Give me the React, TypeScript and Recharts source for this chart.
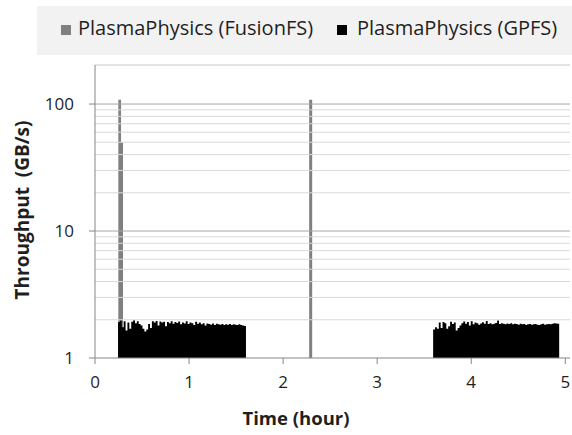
import React from 'react';
import { ComposedChart, Area, XAxis, YAxis, ReferenceLine } from 'recharts';

// Time axis (hours)
const xTicks = [0, 1, 2, 3, 4, 5];
const yTicks = [1, 10, 100];
const minorGrid = [2, 3, 4, 5, 6, 7, 8, 9, 20, 30, 40, 50, 60, 70, 80, 90];
const majorGrid = [10, 100];

// PlasmaPhysics (FusionFS): short bursts (time in hours, GB/s)
const fusionTimes = [0.248, 0.277, 0.298, 2.277, 2.309];
const fusionValues = [108, 50, 1, 108, 1];

// PlasmaPhysics (GPFS): two long sustained phases, sampled every 0.02 h
const gpfsStep = 0.02;
const gpfsBlock1Start = 0.245;
const gpfsBlock1 = [
  1.92, 1.97, 1.75, 1.95, 1.65, 1.9, 1.7, 1.93, 1.98, 1.88, 1.95, 1.85, 1.8, 1.7, 1.62, 1.68, 1.85, 1.72,
  1.95, 1.9, 1.96, 1.8, 1.94, 1.9, 1.93, 1.78, 1.92, 1.88, 1.95, 1.86, 1.92, 1.89, 1.94, 1.84, 1.9, 1.87,
  1.95, 1.85, 1.9, 1.88, 1.82, 1.93, 1.86, 1.9, 1.84, 1.88, 1.8, 1.87, 1.85, 1.83, 1.87, 1.82, 1.86, 1.84,
  1.83, 1.85, 1.82, 1.84, 1.83, 1.85, 1.82, 1.84, 1.83, 1.82, 1.84, 1.82, 1.8, 1.79,
];
const gpfsBlock2Start = 3.595;
const gpfsBlock2 = [
  1.68, 1.75, 1.7, 1.9, 1.72, 1.92, 1.88, 1.7, 1.78, 1.93, 1.85, 1.9, 1.65, 1.72, 1.8, 1.88, 1.94, 1.86,
  1.92, 1.8, 1.95, 1.84, 1.9, 1.88, 1.83, 1.87, 1.91, 1.86, 1.96, 1.85, 1.88, 1.84, 1.86, 1.89, 1.97, 1.85,
  1.88, 1.86, 1.84, 1.87, 1.85, 1.88, 1.84, 1.86, 1.85, 1.83, 1.86, 1.84, 1.85, 1.82, 1.84, 1.85, 1.83,
  1.84, 1.85, 1.83, 1.82, 1.84, 1.86, 1.83, 1.84, 1.85, 1.84, 1.86, 1.88, 1.87, 1.86,
];
const BASE = 1;

type Row = { t: number; fusion?: number; gpfs?: number };

function buildData(): Row[] {
  const map = new Map<string, Row>();
  const put = (t: number, key: 'fusion' | 'gpfs', v: number) => {
    const k = t.toFixed(4);
    const row = map.get(k) || { t: Number(k) };
    row[key] = v;
    map.set(k, row);
  };
  fusionTimes.forEach((t, i) => put(t, 'fusion', fusionValues[i]));
  const addBlock = (start: number, vals: number[]) => {
    vals.forEach((v, i) => put(start + i * gpfsStep, 'gpfs', v));
    put(start + vals.length * gpfsStep, 'gpfs', BASE);
  };
  addBlock(gpfsBlock1Start, gpfsBlock1);
  addBlock(gpfsBlock2Start, gpfsBlock2);
  return Array.from(map.values()).sort((a, b) => a.t - b.t);
}

const data = buildData();

const FONT = '"Open Sans", sans-serif';
const TEXT = '#1f1f1f';
const AXIS = '#868686';

export default function App() {
  return (
    <div style={{ position: 'absolute', left: 0, top: 0, width: 572, height: 435, background: '#fff' }}>
      <ComposedChart
        width={572}
        height={435}
        data={data}
        margin={{ top: 65, right: 2, left: 35, bottom: 47 }}
        style={{ fontFamily: FONT }}
      >
        {minorGrid.map((v) => (
          <ReferenceLine key={'m' + v} y={v} stroke="#d9d9d9" strokeWidth={1} />
        ))}
        {majorGrid.map((v) => (
          <ReferenceLine key={'M' + v} y={v} stroke="#a6a6a6" strokeWidth={1} />
        ))}
        <ReferenceLine y={203} stroke="#c8c8c8" strokeWidth={1} />
        <XAxis
          dataKey="t"
          type="number"
          domain={[0, 5.05]}
          ticks={xTicks}
          allowDataOverflow
          height={30}
          axisLine={{ stroke: AXIS }}
          tickLine={{ stroke: AXIS }}
          tickSize={6}
          tickMargin={12}
          tick={{ fill: TEXT, fontSize: 17, fontFamily: FONT }}
          label={{
            content: () => (
              <text x={296} y={417} textAnchor="middle" dominantBaseline="central" fill={TEXT}
                style={{ fontFamily: FONT, fontSize: 18.5, fontWeight: 700 }}>
                Time (hour)
              </text>
            ),
          }}
        />
        <YAxis
          scale="log"
          domain={[1, 203]}
          ticks={yTicks}
          allowDataOverflow
          width={60}
          axisLine={{ stroke: AXIS }}
          tickLine={{ stroke: AXIS }}
          tickSize={6}
          tickMargin={15}
          tick={{ fill: TEXT, fontSize: 17, fontFamily: FONT }}
          label={{
            content: () => (
              <text x={22} y={210} textAnchor="middle" dominantBaseline="central" fill={TEXT}
                transform="rotate(-90 22 210)"
                style={{ fontFamily: FONT, fontSize: 19, fontWeight: 700, whiteSpace: 'pre' }}>
                {'Throughput  (GB/s)'}
              </text>
            ),
          }}
        />
        <Area
          dataKey="fusion"
          name="PlasmaPhysics (FusionFS)"
          type="stepAfter"
          stroke="none"
          fill="#808080"
          fillOpacity={1}
          connectNulls
          dot={false}
          activeDot={false}
          isAnimationActive={false}
        />
        <Area
          dataKey="gpfs"
          name="PlasmaPhysics (GPFS)"
          type="stepAfter"
          stroke="none"
          fill="#000000"
          fillOpacity={1}
          connectNulls
          dot={false}
          activeDot={false}
          isAnimationActive={false}
        />
      </ComposedChart>
      <div
        style={{
          position: 'absolute', left: 37, top: 6, width: 535, height: 49, background: '#f2f2f2',
          fontFamily: FONT, fontSize: 20, color: TEXT,
        }}
      >
        <div style={{ position: 'absolute', left: 24, top: 19, width: 10, height: 10, background: '#808080' }} />
        <span style={{ position: 'absolute', left: 41, top: 12, lineHeight: '20px', whiteSpace: 'nowrap' }}>
          PlasmaPhysics (FusionFS)
        </span>
        <div style={{ position: 'absolute', left: 300, top: 19, width: 10, height: 10, background: '#000000' }} />
        <span style={{ position: 'absolute', left: 320, top: 12, lineHeight: '20px', whiteSpace: 'nowrap' }}>
          PlasmaPhysics (GPFS)
        </span>
      </div>
    </div>
  );
}
